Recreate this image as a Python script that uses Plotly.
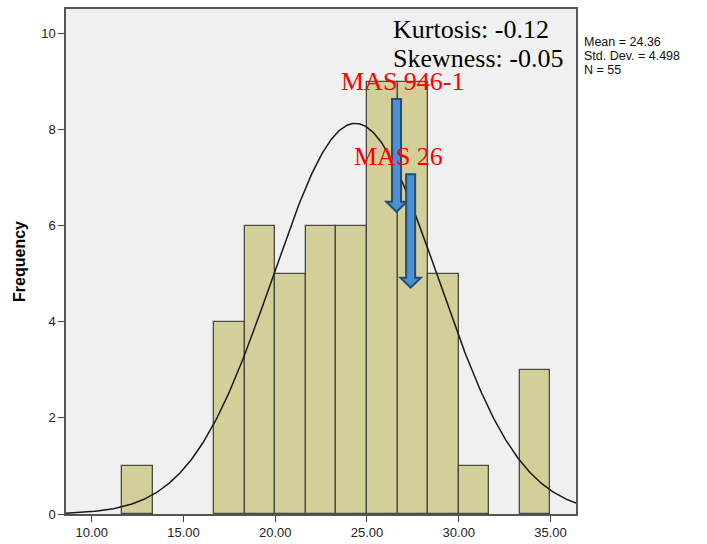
import numpy as np
import plotly.graph_objects as go

# Histogram bins (lower edges) and frequencies
bin_width = 5 / 3
bin_starts = [11.6667, 16.6667, 18.3333, 20.0, 21.6667, 23.3333, 25.0, 26.6667, 28.3333, 30.0, 33.3333]
counts = [1, 4, 6, 5, 6, 6, 9, 9, 5, 1, 3]

# Summary statistics
mean_val = 24.36
sd_val = 4.498
n_val = 55
kurtosis_val = -0.12
skewness_val = -0.05

x_tick_vals = [10, 15, 20, 25, 30, 35]
x_tick_text = ["10.00", "15.00", "20.00", "25.00", "30.00", "35.00"]
y_tick_vals = [0, 2, 4, 6, 8, 10]

# Marked samples: (label, x position, arrow top, arrow tip)
markers = [
    ("MAS 946-1", 26.61, 8.635, 6.29),
    ("MAS 26", 27.38, 7.07, 4.71),
]

W, H = 707, 544
ML, MR, MT, MB = 66, 131, 9, 30
X_RANGE = [8.60, 36.39]
Y_RANGE = [0, 10.51]

plot_w = W - ML - MR
plot_h = H - MT - MB


def paper_x(px):
    return (px - ML) / plot_w


def paper_y(py):
    return (H - MB - py) / plot_h


def data_dx(pixels):
    return pixels / plot_w * (X_RANGE[1] - X_RANGE[0])


def data_dy(pixels):
    return pixels / plot_h * (Y_RANGE[1] - Y_RANGE[0])


centers = [s + bin_width / 2 for s in bin_starts]

fig = go.Figure()

fig.add_trace(go.Bar(
    x=centers, y=counts, width=bin_width,
    marker=dict(color="#d3cf98", line=dict(color="#4a4a42", width=1.3)),
    hoverinfo="skip", showlegend=False,
))

# Fitted normal curve scaled to frequency
xs = np.linspace(X_RANGE[0], X_RANGE[1], 400)
ys = n_val * bin_width / (sd_val * np.sqrt(2 * np.pi)) * np.exp(-0.5 * ((xs - mean_val) / sd_val) ** 2)
fig.add_trace(go.Scatter(
    x=xs, y=ys, mode="lines", line=dict(color="#1a1a1a", width=1.5),
    hoverinfo="skip", showlegend=False,
))

# Block arrows pointing at the marked samples
shaft_hw = data_dx(4.5)
head_hw = data_dx(10.2)
head_len = data_dy(10)
shapes = []
for label, xc, ytop, ytip in markers:
    yb = ytip + head_len
    path = (f"M {xc - shaft_hw} {ytop} L {xc + shaft_hw} {ytop} L {xc + shaft_hw} {yb} "
            f"L {xc + head_hw} {yb} L {xc} {ytip} L {xc - head_hw} {yb} "
            f"L {xc - shaft_hw} {yb} Z")
    shapes.append(dict(type="path", path=path, xref="x", yref="y",
                       fillcolor="#4d8fd1", line=dict(color="#1f4e7a", width=2),
                       layer="above"))

annotations = []
serif = "Liberation Serif, Times New Roman, serif"
sans = "Liberation Sans, Arial, sans-serif"

# Kurtosis / skewness
annotations.append(dict(text=f"Kurtosis: {kurtosis_val:.2f}", x=paper_x(391), y=paper_y(29),
                        xref="paper", yref="paper", xanchor="left", yanchor="middle",
                        showarrow=False, font=dict(family=serif, size=26, color="black")))
annotations.append(dict(text=f"Skewness: {skewness_val:.2f}", x=paper_x(391), y=paper_y(59),
                        xref="paper", yref="paper", xanchor="left", yanchor="middle",
                        showarrow=False, font=dict(family=serif, size=26, color="black")))

# Sample labels
label_pos = {"MAS 946-1": (339, 81), "MAS 26": (352, 156)}
for label, xc, ytop, ytip in markers:
    lx, ly = label_pos[label]
    annotations.append(dict(text=label, x=paper_x(lx), y=paper_y(ly),
                            xref="paper", yref="paper", xanchor="left", yanchor="middle",
                            showarrow=False, font=dict(family=serif, size=26, color="#ff0000")))

# Statistics block beside the plot
stats_lines = [f"Mean = {mean_val:.2f}", f"Std. Dev. = {sd_val:.3f}", f"N = {n_val}"]
for i, line in enumerate(stats_lines):
    annotations.append(dict(text=line, x=paper_x(583), y=paper_y(42.5 + 13.5 * i),
                            xref="paper", yref="paper", xanchor="left", yanchor="middle",
                            borderpad=0,
                            showarrow=False, font=dict(family=sans, size=12.5, color="#111111")))

fig.update_layout(
    width=W, height=H,
    margin=dict(l=ML, r=MR, t=MT, b=MB, pad=0, autoexpand=False),
    paper_bgcolor="white", plot_bgcolor="#f0f0f0",
    bargap=0,
    shapes=shapes, annotations=annotations,
    font=dict(family=sans, size=13, color="#222222"),
)

fig.update_xaxes(
    range=X_RANGE, tickvals=x_tick_vals, ticktext=x_tick_text,
    ticks="outside", ticklen=6, tickwidth=1.3, tickcolor="#444444",
    showline=True, linecolor="#555555", linewidth=1.5, mirror=True,
    showgrid=False, zeroline=False, automargin=False,
    tickfont=dict(family=sans, size=13, color="#222222"),
)
fig.update_yaxes(
    range=Y_RANGE, tickvals=y_tick_vals,
    ticks="outside", ticklen=6, tickwidth=1.3, tickcolor="#444444",
    showline=True, linecolor="#555555", linewidth=1.5, mirror=True,
    showgrid=False, zeroline=False, automargin=False,
    tickfont=dict(family=sans, size=13, color="#222222"),
    title=dict(text="<b>Frequency</b>", font=dict(family=sans, size=16, color="black"), standoff=12),
)

fig.write_html("out.html")
